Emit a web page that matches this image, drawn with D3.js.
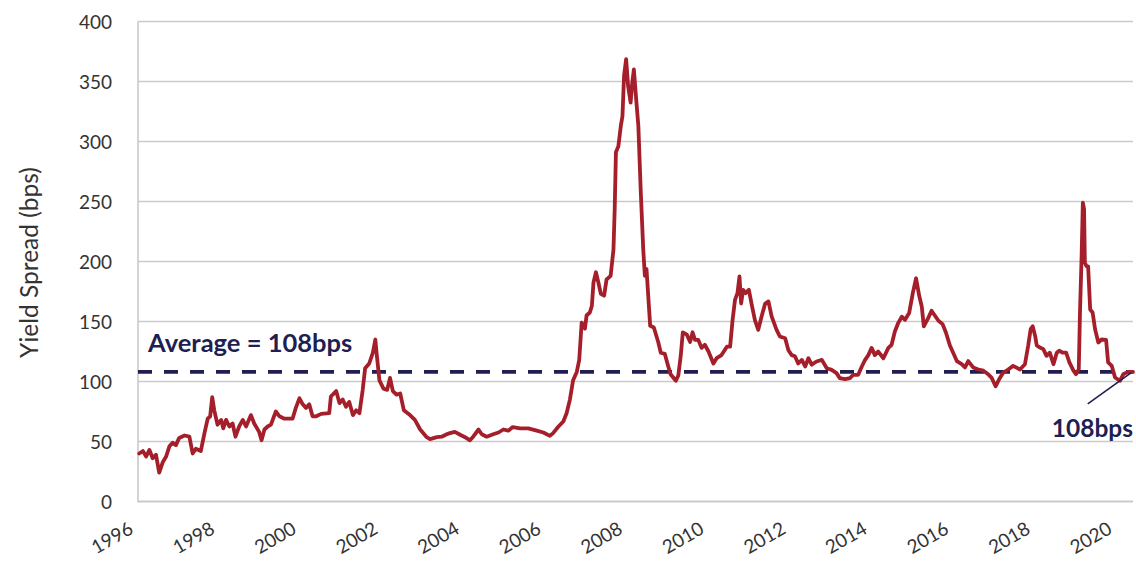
<!DOCTYPE html>
<html>
<head>
<meta charset="utf-8">
<script src="https://cdn.jsdelivr.net/npm/d3@7"></script>
<style>
  html, body { margin: 0; padding: 0; background: #ffffff; }
  svg { display: block; }
  text { font-family: "Lato", "Open Sans", sans-serif; }
</style>
</head>
<body>
<svg id="chart" width="1136" height="563"></svg>
<script>
// ---- data ----
const years = [
  1996.03,1996.12,1996.20,1996.28,1996.36,1996.44,1996.52,1996.61,1996.69,1996.77,1996.85,1996.93,
  1997.01,1997.14,1997.26,1997.34,1997.42,1997.54,1997.63,1997.71,1997.77,1997.82,1997.87,1997.95,
  1998.04,1998.09,1998.16,1998.24,1998.32,1998.39,1998.48,1998.57,1998.65,1998.77,1998.85,1998.97,
  1999.03,1999.10,1999.18,1999.26,1999.38,1999.47,1999.59,1999.79,1999.87,1999.96,
  2000.04,2000.12,2000.20,2000.28,2000.37,2000.49,2000.69,2000.73,2000.86,2000.94,
  2001.02,2001.10,2001.18,2001.27,2001.35,2001.43,2001.51,2001.57,2001.67,2001.76,2001.82,2001.85,2001.92,
  2002.02,2002.11,2002.18,2002.25,2002.34,2002.43,2002.52,2002.67,2002.79,2002.92,
  2003.08,2003.16,2003.33,2003.45,2003.57,2003.65,2003.77,2003.90,
  2004.02,2004.14,2004.22,2004.35,2004.43,2004.55,2004.71,2004.84,2004.96,
  2005.08,2005.19,2005.37,2005.57,2005.78,2005.94,
  2006.10,2006.18,2006.31,2006.43,2006.51,2006.59,2006.67,2006.76,2006.82,2006.88,2006.96,
  2007.00,2007.08,2007.13,2007.17,2007.23,2007.29,2007.35,2007.43,2007.49,2007.59,2007.66,2007.69,
  2007.72,2007.78,2007.84,2007.88,2007.92,2007.97,
  2008.02,2008.08,2008.12,2008.16,2008.21,2008.27,2008.33,2008.39,2008.43,2008.47,2008.56,2008.65,
  2008.76,2008.82,2008.92,
  2009.00,2009.06,2009.19,2009.25,2009.31,2009.36,2009.46,2009.54,2009.60,2009.66,2009.74,2009.82,2009.90,2009.99,
  2010.11,2010.19,2010.31,2010.44,2010.52,2010.58,2010.64,2010.70,2010.75,2010.79,2010.84,2010.90,2010.98,
  2011.05,2011.13,2011.21,2011.29,2011.38,2011.46,2011.54,2011.66,2011.74,2011.87,2011.95,
  2012.03,2012.11,2012.19,2012.28,2012.36,2012.44,2012.52,2012.64,2012.77,2012.89,
  2013.01,2013.13,2013.21,2013.34,2013.46,2013.54,2013.66,2013.75,2013.83,2013.91,2013.99,
  2014.07,2014.15,2014.28,2014.40,2014.48,2014.56,2014.64,2014.73,2014.81,2014.91,
  2015.00,2015.08,2015.16,2015.22,2015.27,2015.38,2015.46,2015.54,2015.63,2015.73,2015.81,2015.91,2015.99,
  2016.08,2016.20,2016.28,2016.36,2016.48,2016.61,2016.73,2016.85,2016.93,
  2017.03,2017.12,2017.22,2017.34,2017.46,2017.63,2017.75,2017.83,2017.89,2017.94,
  2018.00,2018.04,2018.12,2018.20,2018.28,2018.36,2018.45,2018.53,2018.59,2018.68,2018.76,2018.84,2018.94,
  2019.00,2019.07,2019.10,2019.14,2019.17,2019.20,2019.22,2019.26,2019.30,2019.35,2019.41,2019.47,2019.55,
  2019.63,2019.74,2019.79,2019.88,2019.96,
  2020.08,2020.16,2020.28,2020.40
];
const spreadBps = [
  40,42,37.5,43,36,39,24,33,37.5,46,49,47,
  53,55,54,40,44,42,57,69,71,87,76,64,
  68,61,68,62.5,65,54,62.5,68,62.5,72,65,58,
  51,60,62.5,64,75,71,69,69,78,86,
  81,78,81,71,71,73,73.6,87.5,92,82,
  85,79,83,72,76,73.6,93,111,115,124,135,124,101,
  94,93,103,92,89,90,76,72,68,60,
  53.6,52,53.6,54,56,57,58,55.6,
  53.6,51,54,60,56,54,56,57.5,60,
  59,62,61,61,59,57.5,
  54.7,57,62.5,66.7,73.6,84.7,101,108,118,149,144,
  155,157.5,163,182.5,191,182.5,173,171.5,185,188,210,243.6,
  291,296,313,321,355,368.6,
  346,332.5,349,360,338,313,257.5,210,188,193.6,146.4,145,
  132.5,124,123,
  113,106,100.6,105,121.6,141,139,133,141,134.7,134.7,128,130.6,125,
  115,119.4,122,129,129,151,168,173.6,187.5,165,176.4,173.6,176.4,
  164,151,143,154,165,166.7,154,143,137.5,136,126,
  122,121,115,118,112.5,119.4,114,116.7,118,111,
  109.7,107,102.8,102,102.8,105.6,105.6,112.5,118,122,128,
  122,125,119.4,128,130.6,141.7,148.6,154,151.4,157,
  173.6,186,171,162.5,146,153,159,155,150.6,147.8,141,130,124,
  117,114.4,111.7,117,111.7,110,109,106,103.3,
  96,102,107.5,110,113,110,114.4,130,143.6,146,
  138,130,128.3,127,121.4,124,114.4,124,125.6,124,124,116,109,
  106,110,157.5,204.7,249,243.6,199,196,196,160,157.5,143.6,132.5,
  135,134.7,116,113,103.3,
  100.6,106,108,108
];
const yTicks = [0, 50, 100, 150, 200, 250, 300, 350, 400];
const xTickYears = [1996, 1998, 2000, 2002, 2004, 2006, 2008, 2010, 2012, 2014, 2016, 2018, 2020];
const averageBps = 108;
const lastBps = 108;
const yTitle = "Yield Spread (bps)";
const avgLabel = "Average = 108bps";
const lastLabel = "108bps";

// ---- layout ----
const W = 1136, H = 563;
const mLeft = 138, mRight = 1133, mTop = 21.5, mBottom = 501.5;
const red = "#a51f2b";
const navy = "#211e52";
const grid = "#cacaca";
const ink = "#333333";

const svg = d3.select("#chart");
const x = d3.scaleLinear().domain([1996, 2020.4]).range([mLeft, mRight]);
const y = d3.scaleLinear().domain([0, 400]).range([mBottom, mTop]);

// gridlines
svg.append("g").selectAll("line").data(yTicks).join("line")
  .attr("x1", mLeft).attr("x2", mRight)
  .attr("y1", d => y(d)).attr("y2", d => y(d))
  .attr("stroke", grid).attr("stroke-width", d => d === 0 ? 2.2 : 1.6);

// left axis line
svg.append("line").attr("x1", mLeft).attr("x2", mLeft)
  .attr("y1", y(400)).attr("y2", y(0) + 1)
  .attr("stroke", grid).attr("stroke-width", 1.6);

// y axis labels via d3 axis
const yAxis = d3.axisLeft(y).tickValues(yTicks).tickSize(0).tickPadding(0);
const gy = svg.append("g").attr("transform", `translate(${mLeft - 26},0)`).call(yAxis);
gy.select(".domain").remove();
gy.selectAll("text").attr("font-size", 19).attr("fill", ink)
  .attr("font-family", "Lato, 'Open Sans', sans-serif").attr("dy", "0.35em");

// x axis labels (rotated)
const xAxis = d3.axisBottom(x).tickValues(xTickYears).tickFormat(d3.format("d")).tickSize(0).tickPadding(0);
const gx = svg.append("g").attr("transform", `translate(0,${mBottom})`).call(xAxis);
gx.select(".domain").remove();
gx.selectAll(".tick text")
  .attr("font-size", 19).attr("fill", ink)
  .attr("font-family", "Lato, 'Open Sans', sans-serif")
  .attr("text-anchor", "end")
  .attr("dy", null).attr("y", 0)
  .attr("transform", "translate(-4,31) rotate(-30)");

// y title
svg.append("text")
  .attr("transform", `translate(38,${(mTop + mBottom) / 2 + 1}) rotate(-90)`)
  .attr("text-anchor", "middle")
  .attr("font-size", 24.5).attr("fill", ink)
  .text(yTitle);

// average dashed line
svg.append("line")
  .attr("x1", mLeft).attr("x2", mRight)
  .attr("y1", y(averageBps)).attr("y2", y(averageBps))
  .attr("stroke", navy).attr("stroke-width", 3.6)
  .attr("stroke-dasharray", "14,12");

// series line
const data = years.map((t, i) => ({ t, v: spreadBps[i] }));
svg.append("path").datum(data)
  .attr("fill", "none").attr("stroke", red).attr("stroke-width", 3.8)
  .attr("stroke-linejoin", "round").attr("stroke-linecap", "round")
  .attr("d", d3.line().x(d => x(d.t)).y(d => y(d.v)));

// annotations
svg.append("text")
  .attr("x", mLeft + 10).attr("y", y(averageBps) - 20)
  .attr("font-size", 25.5).attr("font-weight", 700).attr("fill", navy)
  .text(avgLabel);

svg.append("line")
  .attr("x1", x(2019.29)).attr("y1", y(lastBps) + 32)
  .attr("x2", x(2020.35)).attr("y2", y(lastBps) + 1)
  .attr("stroke", navy).attr("stroke-width", 1.6);

svg.append("text")
  .attr("x", mRight).attr("y", y(lastBps) + 65)
  .attr("text-anchor", "end")
  .attr("font-size", 24.5).attr("font-weight", 700).attr("fill", navy)
  .text(lastLabel);
</script>
</body>
</html>
